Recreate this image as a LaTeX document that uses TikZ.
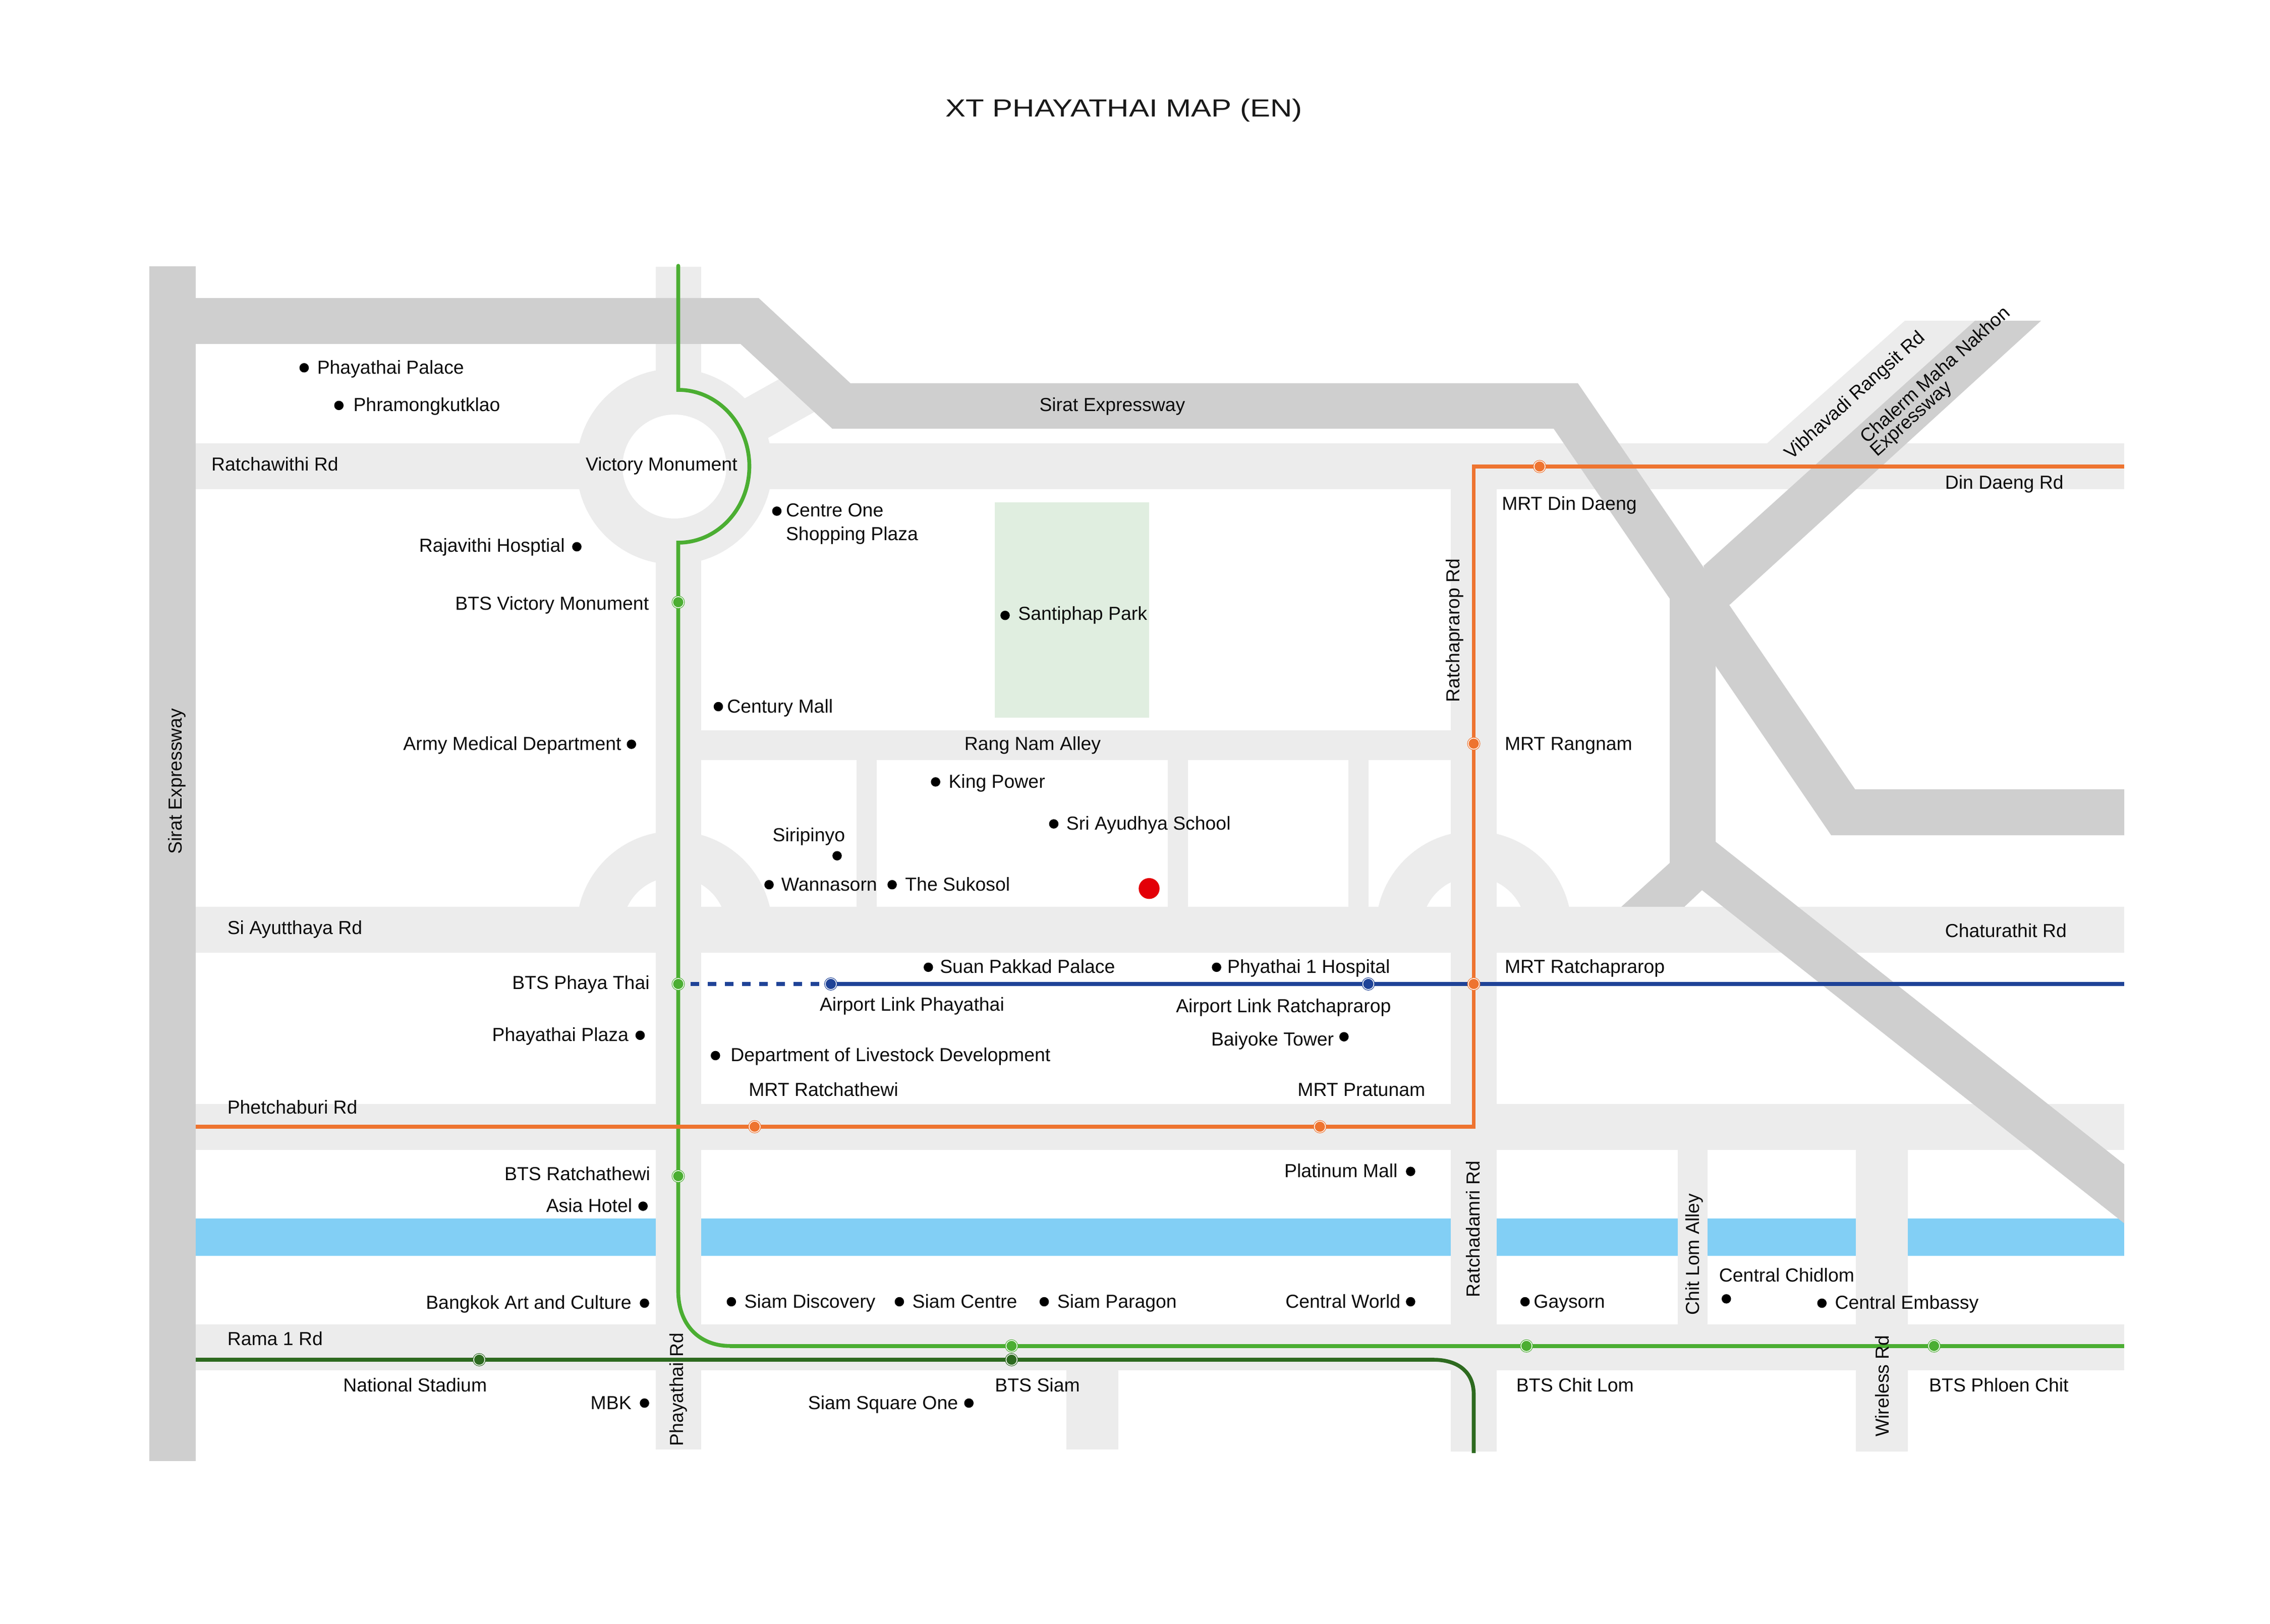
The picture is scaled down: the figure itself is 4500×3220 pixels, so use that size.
\documentclass[tikz,border=0pt]{standalone}
\usepackage{fontspec}
\setmainfont{Liberation Sans}
\newfontfamily\titlefont[FakeStretch=1.225]{Liberation Sans}
\definecolor{roadc}{HTML}{ECECEC}
\definecolor{expc}{HTML}{CFCFCF}
\definecolor{canalc}{HTML}{82CFF5}
\definecolor{parkc}{HTML}{E0EEE0}
\definecolor{greenl}{HTML}{4BAE32}
\definecolor{darkg}{HTML}{2D6A1F}
\definecolor{orangel}{HTML}{EE7430}
\definecolor{bluel}{HTML}{1F4397}
\definecolor{redm}{HTML}{E30008}
\tikzset{
  road/.style={fill=roadc,draw=none},
  expw/.style={fill=expc,draw=none},
  lbl/.style={inner sep=0pt,outer sep=0pt,font=\fontsize{9.35}{11.5}\selectfont,text=black!95},
  ptdot/.style={circle,fill=black,inner sep=0pt,outer sep=0pt,minimum size=4.65pt},
  stn/.style={circle,inner sep=0pt,outer sep=0pt,minimum size=5.5pt,fill=#1,draw=#1,line width=.3pt,double=white,double distance=.375pt},
  metro/.style={line width=1.9pt,draw=#1,line join=miter}
}
% labels positioned in units of 1/2.871 px (x, y of text mid-line)
\newcommand{\LbW}[4]{\node[lbl,anchor=base west] (#1) at ({#2*2.871},{#3*2.871+12}) {#4};}
\newcommand{\LbE}[4]{\node[lbl,anchor=base east] (#1) at ({#2*2.871},{#3*2.871+12}) {#4};}
\newcommand{\LbC}[4]{\node[lbl,anchor=base] (#1) at ({#2*2.871},{#3*2.871+12}) {#4};}
\newcommand{\LbD}[3]{\node[ptdot] (#1) at ({#2*2.871},{#3*2.871}) {};}
\newcommand{\LbV}[4]{\node[lbl,anchor=base,rotate=90] (#1) at (#2,#3) {#4};}
\newcommand{\LbR}[4]{\node[lbl,anchor=center,rotate=42] (#1) at (#2,#3) {#4};}
\begin{document}
\begin{tikzpicture}[x=0.25pt,y=-0.25pt]
\useasboundingbox (0,0) rectangle (4500,3220);
\fill[white] (0,0) rectangle (4500,3220);
% park
\fill[parkc] (1972,996) rectangle (2278,1423);
% canal
\fill[canalc] (388,2415.6) rectangle (4211,2490);
% half rings
\begin{scope}
  \clip (1000,1500) rectangle (3300,1842);
  \fill[roadc] (1337,1842) circle[radius=194];
  \fill[white] (1337,1842) circle[radius=103];
  \fill[roadc] (2921.5,1842) circle[radius=194];
  \fill[white] (2921.5,1842) circle[radius=103];
\end{scope}
% light roads
\path[road] (388,879) rectangle (4211,970);
\path[road] (388,2189) rectangle (4211,2279.5);
\path[road] (388,2626) rectangle (4211,2716.7);
\path[road] (1300,529) rectangle (1390,2874);
\path[road] (2876,970) rectangle (2966.5,2878);
\path[road] (1390,1448) rectangle (2876,1507);
\path[road] (1698,1507) rectangle (1738,1800);
\path[road] (2314.5,1507) rectangle (2355,1800);
\path[road] (2673,1507) rectangle (2713,1800);
\path[road] (3326,2279) rectangle (3385,2626);
\path[road] (3679,2279) rectangle (3782,2878);
\path[road] (2114,2716) rectangle (2217,2874);
% roundabout
\path[road] (1460,799) -- (1560,743) -- (1630,808) -- (1500,881) -- cycle;
\fill[roadc] (1337,925) circle[radius=194];
\fill[white] (1337,925) circle[radius=103];
\path[road] (3503,879) -- (3776,636) -- (3950,636) -- (3700,900) -- cycle;
% dark expressways under Si Ayutthaya
\path[expw] (3310,1180) -- (3401,1180) -- (3401,1700) -- (3374,1765) -- (3339,1798) -- (3339,1830) -- (3214,1830) -- (3214,1798) -- (3310,1711) -- cycle;
% Si Ayutthaya
\path[road] (388,1797.5) rectangle (4211,1888.5);
% dark expressways
\path[expw] (296,528) rectangle (388,2897);
\path[expw] (388,591) -- (1504,591) -- (1686,760) -- (3128,760) -- (3677.5,1565) -- (4211,1565) -- (4211,1656) -- (3630,1656) -- (3080,850) -- (1650,850) -- (1468,682) -- (388,682) -- cycle;
\path[expw] (3377,1122) -- (3915,636) -- (4046,636) -- (3429,1199) -- (3400,1200) -- cycle;
\path[expw] (3401,1669) -- (4211,2308.5) -- (4211,2425.5) -- (3374,1765) -- (3350,1700) -- cycle;
% lines
\coordinate (gtop) at (1344.5,527);
\coordinate (ga) at (1344.5,773);
\coordinate (gb) at (1485.5,924.5);
\coordinate (gc) at (1344.5,1076);
\coordinate (gd) at (1344.5,2560);
\coordinate (ge) at (1447,2668.7);
\coordinate (gend) at (4211,2668.7);
\draw[metro=greenl,line cap=round] (gtop) -- (ga) .. controls (1422.5,773) and (1485.5,841) .. (gb) .. controls (1485.5,1008) and (1422.5,1076) .. (gc) -- (gd) .. controls (1344.5,2625) and (1385,2668.7) .. (ge);
\draw[metro=greenl] (ge) -- (gend);
\coordinate (da) at (388,2696);
\coordinate (db) at (2841,2696);
\coordinate (dc) at (2921.5,2765);
\coordinate (dd) at (2921.5,2881);
\draw[metro=darkg] (da) -- (db) .. controls (2890,2696) and (2921.5,2720) .. (dc) -- (dd);
\node[stn=greenl] (bvm) at (1344.5,1194) {};
\node[stn=greenl] (bpt) at (1344.5,1951) {};
\node[stn=greenl] (brt) at (1344.5,2332) {};
\coordinate (alpc) at (1647,1951);
\coordinate (alrc) at (2712.5,1951);
\coordinate (bdash) at (1369,1951);
\coordinate (bend) at (4211,1951);
\draw[metro=bluel,dash pattern=on 4.25pt off 4.25pt] (bdash) -- (alpc);
\draw[metro=bluel] (alpc) -- (alrc) -- (bend);
\node[stn=bluel] (alp) at (alpc) {};
\node[stn=bluel] (alr) at (alrc) {};
\coordinate (oa) at (388,2234);
\coordinate (ob) at (2921.5,2234);
\coordinate (oc) at (2921.5,925);
\coordinate (od) at (4211,925);
\draw[metro=orangel] (oa) -- (ob) -- (oc) -- (od);
\node[stn=orangel] (mrw) at (1496,2234) {};
\node[stn=orangel] (mpr) at (2616.5,2234) {};
\node[stn=orangel] (mrp) at (2921.5,1951) {};
\node[stn=orangel] (mrn) at (2921.5,1474.5) {};
\node[stn=orangel] (mdd) at (3052,925) {};
\node[stn=greenl] (bsi) at (2005.3,2668.7) {};
\node[stn=darkg] (bsd) at (2005.3,2696) {};
\node[stn=darkg] (bns) at (950,2696) {};
\node[stn=greenl] (bcl) at (3026,2668.7) {};
\node[stn=greenl] (bpc) at (3834,2668.7) {};
% red marker
\node[circle,fill=redm,inner sep=0pt,outer sep=0pt,minimum size=10.35pt] (mark) at (2278,1761.7) {};
% title
\node[inner sep=0pt,anchor=base,font=\titlefont\fontsize{12.25}{14}\selectfont,text=black!90] (title) at (2228,232) {XT PHAYATHAI MAP (EN)};
% dots
\LbD{d1}{210}{254}\LbD{d2}{234}{280}\LbD{d3}{536.4}{353}\LbD{d4}{398.3}{377.6}\LbD{d5}{694}{425}\LbD{d6}{496}{488}\LbD{d7}{436}{514}\LbD{d8}{646}{540}\LbD{d9}{727.6}{569}\LbD{d10}{578}{591}\LbD{d11}{531}{611}\LbD{d12}{616}{611}\LbD{d13}{641}{668}\LbD{d14}{840}{668}\LbD{d15}{928}{716}\LbD{d16}{442}{715}\LbD{d17}{494}{729}\LbD{d18}{974}{809}\LbD{d19}{444}{833}\LbD{d20}{1192}{897}\LbD{d21}{1258}{900}\LbD{d22}{445}{900}\LbD{d23}{505}{899}\LbD{d24}{621}{899}\LbD{d25}{721}{899}\LbD{d26}{974}{899}\LbD{d27}{1053}{899}\LbD{d28}{445}{969}\LbD{d29}{669}{969}
% labels
\LbW{t1}{219}{254}{Phayathai Palace}
\LbW{t2}{244}{280}{Phramongkutklao}
\LbC{t3}{768}{280}{Sirat Expressway}
\LbW{t4}{146}{321}{Ratchawithi Rd}
\node[lbl,anchor=base west] (t5) at (1161,934) {Victory Monument};
\LbW{t6}{1343}{333.5}{Din Daeng Rd}
\LbW{t7}{1037}{348}{MRT Din Daeng}
\node[lbl,anchor=base west] (t8) at (1558,1024.5) {Centre One};
\node[lbl,anchor=base west] (t9) at (1558,1072) {Shopping Plaza};
\LbE{t10}{390}{377}{Rajavithi Hosptial}
\LbE{t11}{448}{417}{BTS Victory Monument}
\LbW{t12}{703}{424}{Santiphap Park}
\LbW{t13}{502}{488}{Century Mall}
\LbE{t14}{429}{514}{Army Medical Department}
\LbC{t15}{713}{514}{Rang Nam Alley}
\LbW{t16}{1039}{514}{MRT Rangnam}
\LbW{t17}{655}{540}{King Power}
\LbW{t18}{736.3}{569}{Sri Ayudhya School}
\LbW{t19}{533.5}{577}{Siripinyo}
\LbW{t20}{539.5}{611}{Wannasorn}
\LbW{t21}{625}{611}{The Sukosol}
\LbW{t22}{157}{641}{Si Ayutthaya Rd}
\LbW{t23}{1343}{643}{Chaturathit Rd}
\LbW{t24}{649}{668}{Suan Pakkad Palace}
\LbW{t25}{847.5}{668}{Phyathai 1 Hospital}
\LbW{t26}{1039}{668}{MRT Ratchaprarop}
\LbE{t27}{448.5}{679}{BTS Phaya Thai}
\LbW{t28}{566}{694}{Airport Link Phayathai}
\LbW{t29}{812}{695}{Airport Link Ratchaprarop}
\LbE{t30}{921}{718}{Baiyoke Tower}
\LbE{t31}{434}{715}{Phayathai Plaza}
\LbW{t32}{504.5}{729}{Department of Livestock Development}
\LbW{t33}{517}{753}{MRT Ratchathewi}
\LbW{t34}{896}{753}{MRT Pratunam}
\LbW{t35}{157}{765}{Phetchaburi Rd}
\LbE{t36}{965}{809}{Platinum Mall}
\LbE{t37}{449}{811}{BTS Ratchathewi}
\LbE{t38}{436.5}{833}{Asia Hotel}
\LbW{t39}{1187}{881}{Central Chidlom}
\LbW{t40}{1267}{900}{Central Embassy}
\LbE{t41}{436}{900}{Bangkok Art and Culture}
\LbW{t42}{514}{899}{Siam Discovery}
\LbW{t43}{630}{899}{Siam Centre}
\LbW{t44}{730}{899}{Siam Paragon}
\LbE{t45}{967}{899}{Central World}
\LbW{t46}{1059}{899}{Gaysorn}
\LbW{t47}{157}{925}{Rama 1 Rd}
\LbW{t48}{237}{957}{National Stadium}
\LbW{t49}{687}{957}{BTS Siam}
\LbW{t50}{1047}{957}{BTS Chit Lom}
\LbW{t51}{1332}{957}{BTS Phloen Chit}
\LbE{t52}{436}{969}{MBK}
\LbE{t53}{661.5}{969}{Siam Square One}
\LbV{v1}{360}{1549}{Sirat Expressway}
\LbV{v2}{2893}{1250}{Ratchaprarop Rd}
\LbV{v3}{2933}{2437}{Ratchadamri Rd}
\LbV{v4}{3368}{2487}{Chit Lom Alley}
\LbV{v5}{1354}{2755}{Phayathai Rd}
\LbV{v6}{3744}{2748}{Wireless Rd}
\LbR{r1}{3678}{785}{Vibhavadi Rangsit Rd}
\LbR{r2}{3835}{742}{Chalerm Maha Nakhon}
\LbR{r3}{3790}{832}{Expressway}
\end{tikzpicture}
\end{document}
